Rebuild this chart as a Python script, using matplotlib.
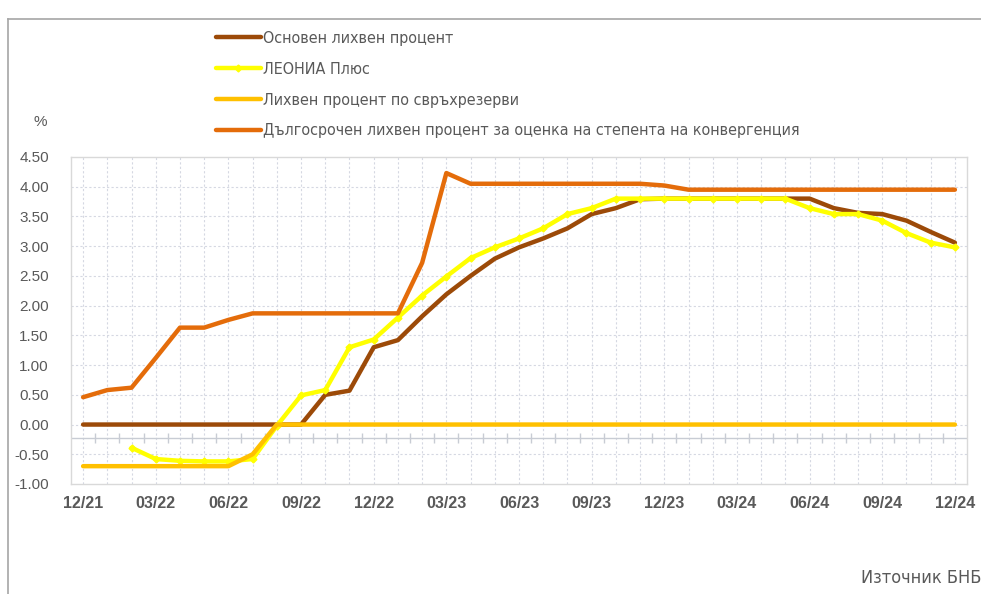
import numpy as np
import matplotlib
matplotlib.use("Agg")
import matplotlib.pyplot as plt
from matplotlib.lines import Line2D

# Monthly values, 12/21 .. 12/24
months = ["12/21", "01/22", "02/22", "03/22", "04/22", "05/22", "06/22", "07/22", "08/22",
          "09/22", "10/22", "11/22", "12/22", "01/23", "02/23", "03/23", "04/23", "05/23",
          "06/23", "07/23", "08/23", "09/23", "10/23", "11/23", "12/23", "01/24", "02/24",
          "03/24", "04/24", "05/24", "06/24", "07/24", "08/24", "09/24", "10/24", "11/24",
          "12/24"]

base_rate = [0.00, 0.00, 0.00, 0.00, 0.00, 0.00, 0.00, 0.00, 0.00, 0.00, 0.50, 0.57,
             1.30, 1.42, 1.82, 2.19, 2.50, 2.79, 2.98, 3.13, 3.30, 3.54, 3.64, 3.79,
             3.80, 3.80, 3.80, 3.80, 3.80, 3.80, 3.80, 3.64, 3.56, 3.54, 3.43, 3.24, 3.06]

leonia = [np.nan, np.nan, -0.39, -0.58, -0.61, -0.62, -0.62, -0.58, -0.02, 0.49, 0.58, 1.30,
          1.43, 1.80, 2.17, 2.49, 2.80, 2.98, 3.13, 3.30, 3.54, 3.64, 3.80, 3.80,
          3.80, 3.80, 3.80, 3.80, 3.80, 3.80, 3.64, 3.54, 3.54, 3.43, 3.22, 3.06, 2.98]

excess_reserves = [-0.70, -0.70, -0.70, -0.70, -0.70, -0.70, -0.70, -0.50, 0.00, 0.00,
                   0.00, 0.00, 0.00, 0.00, 0.00, 0.00, 0.00, 0.00, 0.00, 0.00, 0.00,
                   0.00, 0.00, 0.00, 0.00, 0.00, 0.00, 0.00, 0.00, 0.00, 0.00, 0.00,
                   0.00, 0.00, 0.00, 0.00, 0.00]

long_term = [0.46, 0.58, 0.62, 1.12, 1.63, 1.63, 1.76, 1.87, 1.87, 1.87, 1.87, 1.87,
             1.87, 1.87, 2.72, 4.23, 4.05, 4.05, 4.05, 4.05, 4.05, 4.05, 4.05, 4.05,
             4.02, 3.95, 3.95, 3.95, 3.95, 3.95, 3.95, 3.95, 3.95, 3.95, 3.95, 3.95, 3.95]

labels = ["Основен лихвен процент",
          "ЛЕОНИА Плюс",
          "Лихвен процент по свръхрезерви",
          "Дългосрочен лихвен процент за оценка на степента на конвергенция"]

y_ticks = np.arange(-1.0, 4.51, 0.5)

TEXT = "#595959"
NARROW = {"family": "DejaVu Sans", "stretch": "condensed"}

fig = plt.figure(figsize=(9.81, 5.94), dpi=100)
ax = fig.add_axes([71 / 981, 1 - 484 / 594, (967 - 71) / 981, (484 - 157) / 594])

x = np.arange(len(months))
h1, = ax.plot(x, base_rate, color="#9C4A08", lw=3.2, zorder=3, solid_capstyle="round")
h2, = ax.plot(x, leonia, color="#FFFF00", lw=3.2, marker="D", ms=3.5, zorder=4,
              solid_capstyle="round")
h3, = ax.plot(x, excess_reserves, color="#FFC000", lw=3.2, zorder=5, solid_capstyle="round")
h4, = ax.plot(x, long_term, color="#E46C0A", lw=3.2, zorder=6, solid_capstyle="round")

ax.set_xlim(-0.5, len(months) - 0.5)
ax.set_ylim(-1.0, 4.5)
ax.set_yticks(y_ticks)
ax.set_yticklabels([f"{v:.2f}" for v in y_ticks], fontsize=11, color=TEXT,
                   family="Liberation Sans")
ax.set_xticks(x[::3])
ax.set_xticklabels(months[::3], fontsize=11.5, color=TEXT, family="Liberation Sans",
                   fontweight="bold")
ax.tick_params(axis="both", length=0)
ax.tick_params(axis="x", pad=9)
ax.tick_params(axis="y", pad=16)

# dotted grid: every category and every 0.5
for xi in x:
    ax.axvline(xi, color="#D5D8E2", lw=0.8, ls=(0, (2, 2)), zorder=1)
for yv in y_ticks[1:-1]:
    ax.axhline(yv, color="#D5D8E2", lw=0.8, ls=(0, (2, 2)), zorder=1)

# horizontal category axis line with tick marks between months
axis_y = -0.23
ax.axhline(axis_y, color="#C8CCD4", lw=1.0, zorder=2)
ax.vlines(x[:-1] + 0.5, axis_y - 0.08, axis_y + 0.08, color="#C8CCD4", lw=1.0, zorder=2)

for side in ["top", "right", "bottom", "left"]:
    ax.spines[side].set_color("#D9D9D9")
    ax.spines[side].set_linewidth(1.0)

fig.legend([h1, h2, h3, h4], labels, loc="upper left",
           bbox_to_anchor=(216 / 981, 1 - 31 / 594), frameon=False,
           prop={**NARROW, "size": 11.5}, labelcolor=TEXT,
           handlelength=2.8, handletextpad=0.15, labelspacing=0.99,
           borderpad=0, borderaxespad=0)

fig.text(40 / 981, 1 - 122 / 594, "%", fontsize=11, color=TEXT, ha="center", va="center",
         family="Liberation Sans")
fig.text(981 / 981, 1 - 578 / 594, "Източник БНБ", fontsize=13, color=TEXT, ha="right",
         va="center", **NARROW)

# outer frame (left and top edges visible)
fig.add_artist(Line2D([8 / 981, 8 / 981], [0, 1 - 19 / 594], transform=fig.transFigure,
                      color="#A6A6A6", lw=1.2))
fig.add_artist(Line2D([8 / 981, 1], [1 - 19 / 594, 1 - 19 / 594], transform=fig.transFigure,
                      color="#A6A6A6", lw=1.2))

fig.savefig("out.png", dpi=100)
